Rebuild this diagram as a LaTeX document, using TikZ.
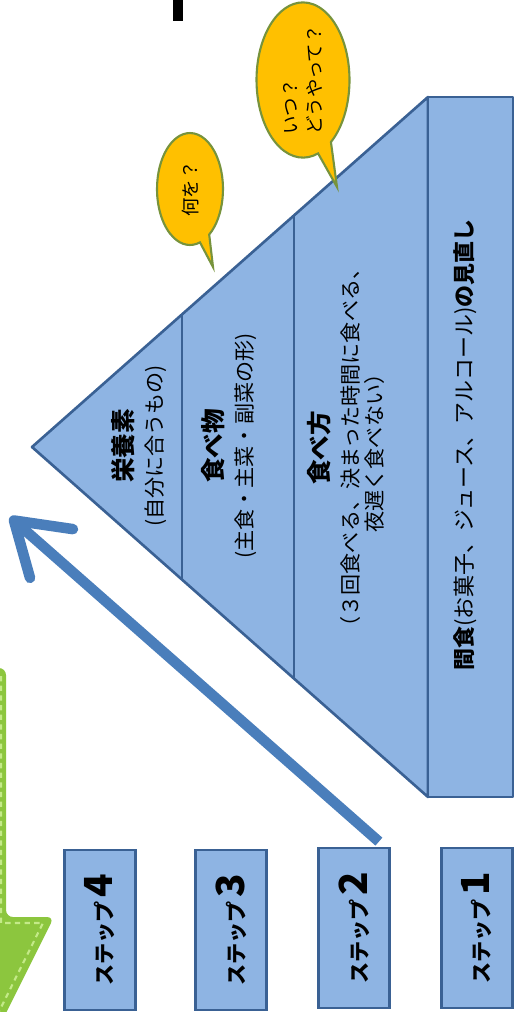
\documentclass[tikz,border=0pt]{standalone}
\usepackage{fontspec}
\setmainfont{Noto Sans CJK JP}
\usepackage{xcolor}
\usepackage{tikz}
\usetikzlibrary{arrows.meta,shapes.callouts}

\definecolor{layerblue}{HTML}{8EB4E3}
\definecolor{edgeblue}{HTML}{3A6194}
\definecolor{arrowblue}{HTML}{4A7EBB}
\definecolor{bubblefill}{HTML}{FFC000}
\definecolor{bubbleedge}{HTML}{77933C}
\definecolor{leafgreen}{HTML}{8CC63E}
\definecolor{leaflight}{HTML}{C4EA88}

\newcommand{\stepnum}[1]{{\fontsize{22}{22}\selectfont #1}}
\newcommand{\headword}[1]{{\bfseries\fontsize{14}{16}\selectfont #1}}

\begin{document}
\begin{tikzpicture}[x=0.02cm,y=-0.02cm,
    layer/.style={fill=layerblue,draw=edgeblue,line width=1.5pt,line join=round},
    layertext/.style={rotate=90,align=center,font=\fontsize{12}{14}\selectfont},
    stepbox/.style={rotate=90,fill=layerblue,draw=edgeblue,line width=1.6pt,
        minimum width=3.2cm,minimum height=1.42cm,font=\bfseries\fontsize{12}{14}\selectfont},
    bubble/.style={ellipse callout,rotate=90,fill=bubblefill,draw=bubbleedge,line width=1.2pt,
        inner sep=0pt,align=left,callout pointer arc=18,font=\fontsize{10.5}{14}\selectfont}]
    \clip (0,0) rectangle (516,1012);

    % green arrow on the left edge
    \fill[leafgreen,rounded corners=4] (-86,668) -- (6,668) -- (6,917) -- (54,917)
        -- (-40,1105) -- (-134,917) -- (-86,917) -- cycle;
    \draw[leaflight,line width=1.2pt,dash pattern=on 3pt off 2.5pt] (1,676) -- (1,923) -- (43,923) -- (-40,1090);

    \fill (173,0) rectangle (183,21);

    % pyramid
    \filldraw[layer] (32,447) -- (428,97) -- (428,797) -- cycle;
    \filldraw[layer] (428,97) rectangle (513,797);
    \draw[edgeblue,line width=1.5pt] (182,314) -- (182,580) (294,215) -- (294,679);

    \node[layertext] (nutrient) at (139,446) {\headword{栄養素}\\[3pt](自分に合うもの)};
    \node[layertext] (food) at (229,446) {\headword{食べ物}\\[3pt](主食・主菜・副菜の形)};
    \node[layertext] (howto) at (346,448) {\headword{食べ方}\\[3pt]（３回食べる、決まった時間に食べる、\\夜遅く食べない）};
    \node[layertext,font=\fontsize{12.5}{14}\selectfont] (snack) at (465,445)
        {\textbf{間食}(お菓子、ジュース、アルコール)\textbf{の見直し}};

    % speech bubbles
    \coordinate (whattip) at (213,267);
    \coordinate (whentip) at (337,187);
    \node[bubble,minimum width=2.24cm,minimum height=1.32cm,callout absolute pointer=(whattip)]
        (what) at (190,189) {何を？};
    \node[bubble,minimum width=3.08cm,minimum height=1.86cm,callout absolute pointer=(whentip)]
        (when) at (303,80) {いつ？\\どうやって？};

    % steps
    \node[stepbox] (s4) at (100,930) {ステップ\,\stepnum{4}};
    \node[stepbox] (s3) at (231,930) {ステップ\,\stepnum{3}};
    \node[stepbox] (s2) at (354,928) {ステップ\,\stepnum{2}};
    \node[stepbox] (s1) at (477,928) {ステップ\,\stepnum{1}};

    \coordinate (tip) at (10,517);
    \draw[arrowblue,line width=6pt,-{Straight Barb[length=1cm,width=1.3cm,line width=0pt 1,round]}]
        ([xshift=-0.24cm,yshift=0.1cm]s2.south east) -- (tip);
\end{tikzpicture}
\end{document}
